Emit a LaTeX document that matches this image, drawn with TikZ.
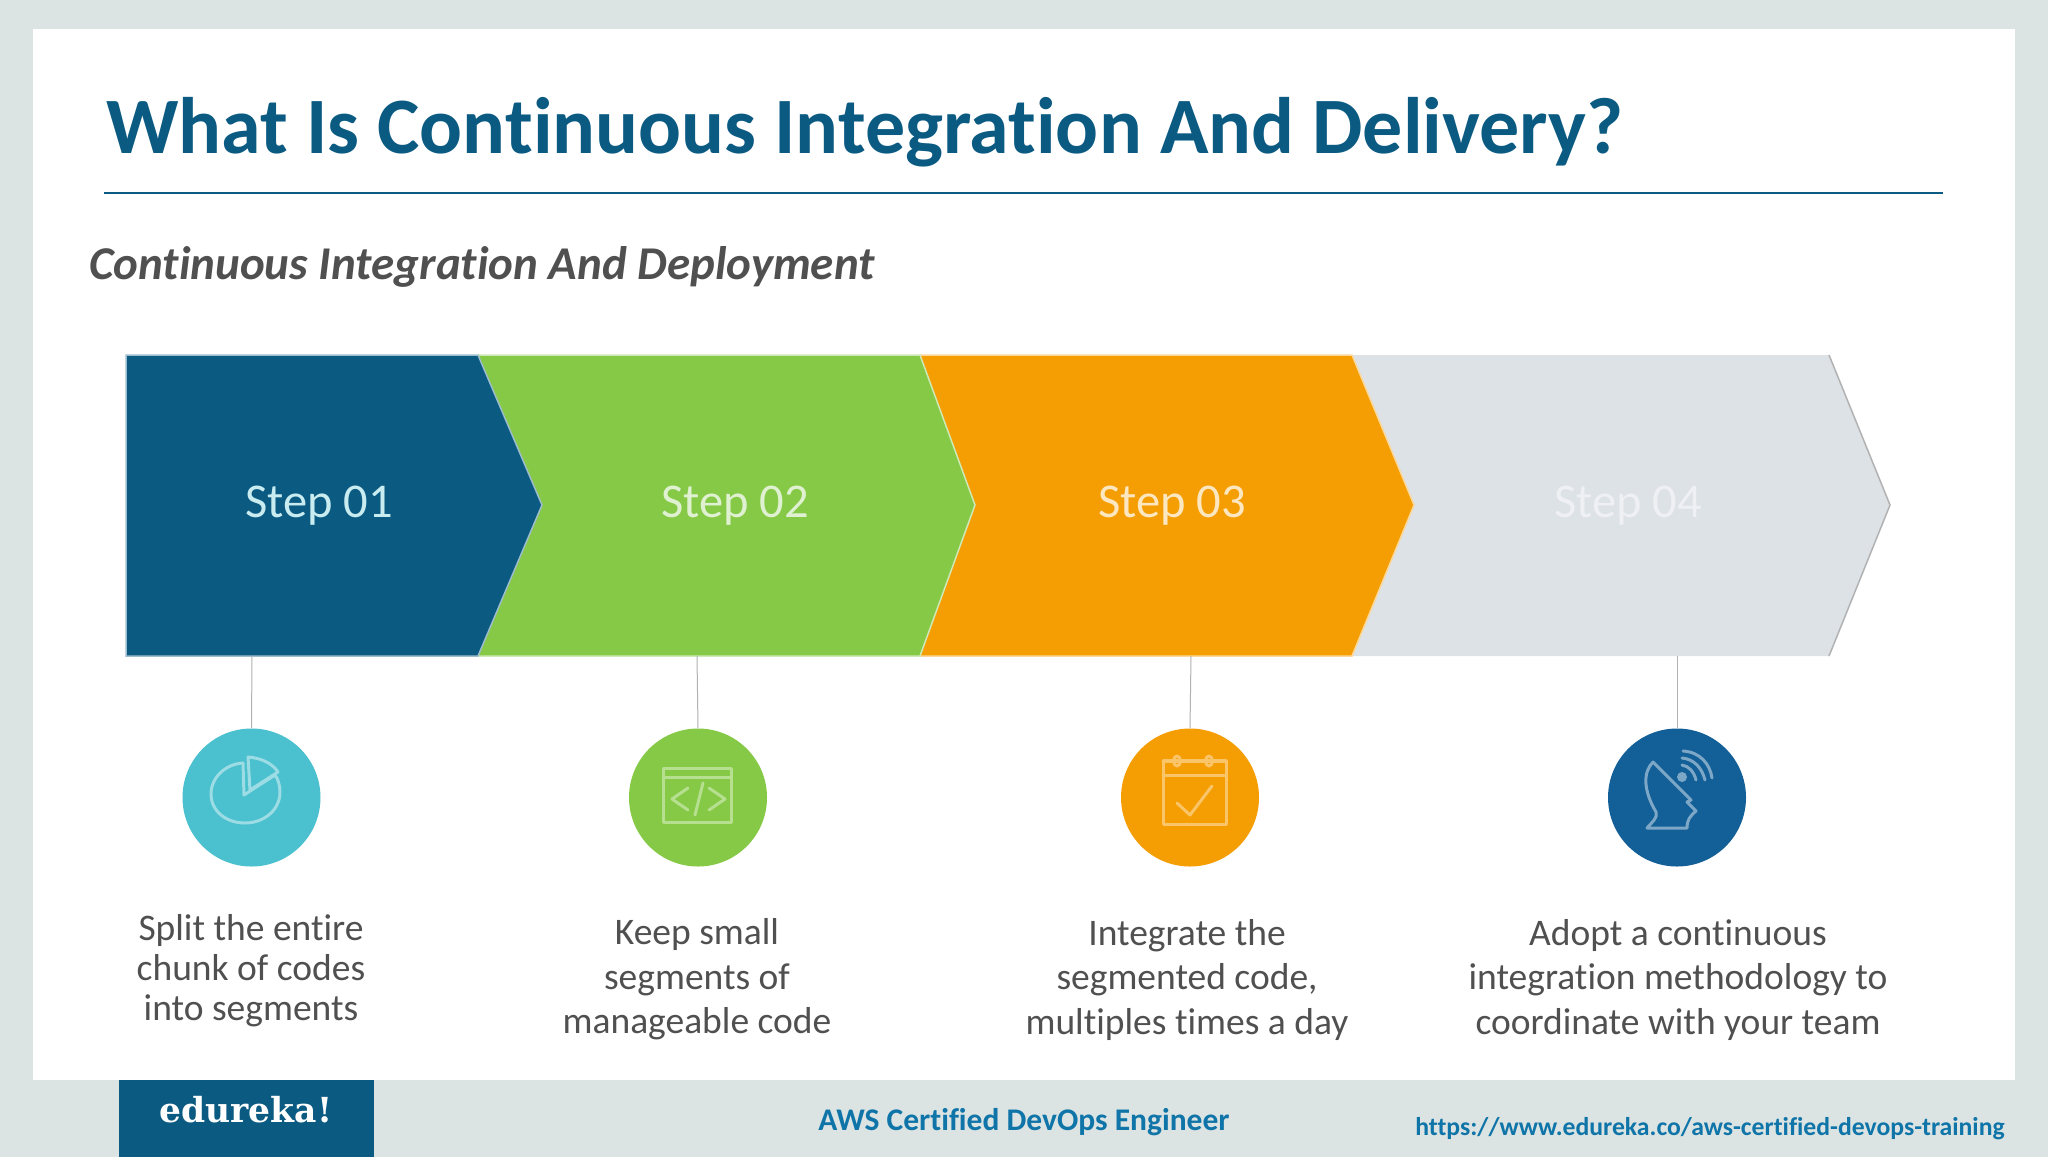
\documentclass[tikz,border=0pt]{standalone}
\usepackage{fontspec}
\setmainfont[Ligatures=NoCommon]{Carlito}
\newfontfamily\logofont{DejaVu Serif}
\definecolor{pagebg}{HTML}{DCE3E3}
\definecolor{navy}{HTML}{0B5A82}
\definecolor{leaf}{HTML}{85C946}
\definecolor{amber}{HTML}{F59E03}
\definecolor{mist}{HTML}{DDE2E6}
\definecolor{teal}{HTML}{4BC0CE}
\definecolor{deep}{HTML}{135F97}
\definecolor{ink}{HTML}{505050}
\definecolor{footblue}{HTML}{0F75A8}
\tikzset{
  x=1pt,y=-1pt,
  chevron/.style={line width=1.5pt,draw=white!60!#1,fill=#1},
  steplabel/.style={font=\fontsize{48.5}{48.5}\selectfont,anchor=base},
  tick/.style={draw=black!30,line width=1pt},
  disc/.style={circle,minimum size=138pt,inner sep=0pt,fill=#1},
  caption/.style={align=center,text=ink,anchor=center,font=\fontsize{37.5}{#1}\selectfont},
  glyph/.style={draw=#1,line width=3pt,line join=round,line cap=round},
}
\begin{document}
\begin{tikzpicture}
\useasboundingbox (0,0) rectangle (2048,1157);
\fill[pagebg] (0,0) rectangle (2048,1157);
\fill[white] (33,29) rectangle (2015,1080);
\node[anchor=base west,inner sep=0pt,text=navy,font=\fontsize{80}{80}\selectfont\bfseries] (title) at (106,153) {What Is Continuous Integration And Delivery?};
\coordinate (ruleL) at (104,193);
\coordinate (ruleR) at (1943,193);
\draw[navy,line width=1.3pt] (ruleL) -- (ruleR);
\node[anchor=base west,inner sep=0pt,text=ink,font=\fontsize{47}{47}\selectfont\bfseries\itshape] (sub) at (89,279) {Continuous Integration And Deployment};
% chevrons
\fill[mist] (1352,355) -- (1829,355) -- (1890,505) -- (1829,656) -- (1352,656) -- cycle;
\draw[black!30,line width=1.5pt] (1829,355) -- (1890,505) -- (1829,656);
\draw[chevron=amber] (920,355) -- (1352,355) -- (1414,505) -- (1352,656) -- (920,656) -- cycle;
\draw[chevron=leaf] (478,355) -- (920,355) -- (975,505) -- (920,656) -- (478,656) -- cycle;
\draw[chevron=navy] (126,355) -- (478,355) -- (542,505) -- (478,656) -- (126,656) -- cycle;
\node[steplabel,text=white!70!teal] (s1) at (319,517) {Step 01};
\node[steplabel,text=white!75!leaf] (s2) at (735,517) {Step 02};
\node[steplabel,text=white!75!amber] (s3) at (1172,517) {Step 03};
\node[steplabel,text=white!50!mist] (s4) at (1628,517) {Step 04};
\coordinate (b1) at (252,656);
\coordinate (b2) at (697,656);
\coordinate (b3) at (1191,656);
\coordinate (b4) at (1677,656);
\node[disc=teal] (c1) at (251.5,797.5) {};
\node[disc=leaf] (c2) at (698,797.5) {};
\node[disc=amber] (c3) at (1190,797.5) {};
\node[disc=deep] (c4) at (1677,797.5) {};
\draw[tick] (b1) -- (c1.north);
\draw[tick] (b2) -- (c2.north);
\draw[tick] (b3) -- (c3.north);
\draw[tick] (b4) -- (c4.north);
% icon 1: pie
\begin{scope}[glyph=white!45!teal]
\draw (243,763) .. controls (225,764) and (211,778) .. (211,794) .. controls (211,811) and (226,823) .. (245,823) .. controls (264,823) and (280,810) .. (280,792) .. controls (280,785) and (278,779) .. (275,775) -- (244,795) -- cycle;
\draw (248,757) .. controls (261,758) and (272,763) .. (278,772) -- (250,790) -- cycle;
\end{scope}
% icon 2: code window
\begin{scope}[glyph=white!40!leaf]
\draw (663,768) rectangle (731,822);
\draw (663,777) -- (731,777);
\draw (688,788) -- (672,799) -- (688,810);
\draw (709,788) -- (725,799) -- (709,810);
\draw (703,783) -- (695,815);
\end{scope}
% icon 3: calendar
\begin{scope}[glyph=white!40!amber]
\draw (1163,760) rectangle (1226,824);
\draw (1163,775) -- (1226,775);
\draw (1163,761) -- (1226,761);
\draw (1177,761) ellipse[x radius=3.5,y radius=5];
\draw (1209,761) ellipse[x radius=3.5,y radius=5];
\draw (1177,803) -- (1190,815) -- (1212,786);
\end{scope}
% icon 4: dish
\begin{scope}[glyph=white!45!deep]
\draw (1653,762) .. controls (1643,772) and (1643,790) .. (1656,812) .. controls (1658,818) and (1652,822) .. (1647,828) -- (1687,828) .. controls (1687,820) and (1690,816) .. (1696,811) -- (1687,802) -- (1691,800) -- cycle;
\fill[white!45!deep] (1682,777) circle[radius=5];
\draw (1682,765) .. controls (1689,766) and (1694,772) .. (1696,780);
\draw (1682,758) .. controls (1694,759) and (1702,768) .. (1705,780);
\draw (1683,751) .. controls (1700,752) and (1710,764) .. (1712,778);
\end{scope}
% captions
\node[caption=40] (t1) at (251,970.5) {Split the entire\\chunk of codes\\into segments};
\node[caption=44.5] (t2) at (697,979.5) {Keep small\\segments of\\manageable code};
\node[caption=44.5] (t3) at (1187,979.5) {Integrate the\\segmented code,\\multiples times a day};
\node[caption=44.5] (t4) at (1678,979.5) {Adopt a continuous\\integration methodology to\\coordinate with your team};
% footer
\node[fill=navy,anchor=north west,minimum width=255pt,minimum height=77pt,inner sep=0pt] (logo) at (119,1080) {};
\node[text=white,anchor=base,font=\fontsize{34.5}{34.5}\selectfont\logofont\bfseries] (logotext) at (246,1122) {edureka!};
\node[text=footblue,anchor=base,font=\fontsize{31.5}{31.5}\selectfont\bfseries] (course) at (1024,1130) {AWS Certified DevOps Engineer};
\node[text=footblue,anchor=base,font=\fontsize{25.7}{25.7}\selectfont\bfseries] (url) at (1710,1135) {https://www.edureka.co/aws-certified-devops-training};
\end{tikzpicture}
\end{document}
